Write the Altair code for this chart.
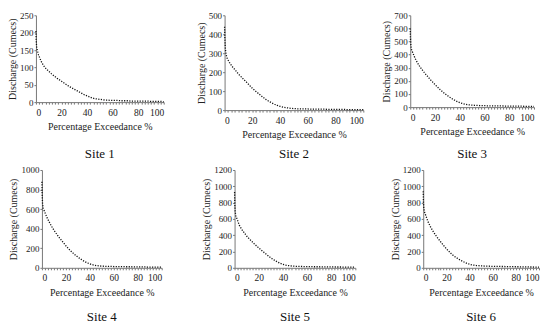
import altair as alt
import pandas as pd

exceedance = [0, 0.2, 0.5, 1,
              2, 4, 6, 8, 10, 12, 14, 16, 18, 20, 22, 24, 26, 28, 30,
              32, 34, 36, 38, 40, 42, 44, 46, 48, 50, 52, 54, 56, 58, 60,
              62, 64, 66, 68, 70, 72, 74, 76, 78, 80, 82, 84, 86, 88, 90,
              92, 94, 96, 98, 100]

site1 = [205, 180, 160, 150,
         136, 118, 105, 96, 89, 82, 76, 70, 65, 60, 55, 50, 45, 41, 37,
         33, 29, 25, 21, 18, 15, 12, 10, 9, 8, 7, 6, 6, 5, 5,
         5, 5, 4, 4, 4, 4, 3, 3, 3, 3, 3, 3, 3, 3, 2,
         2, 2, 2, 2, 1]
site2 = [440, 380, 330, 295,
         270, 245, 225, 208, 190, 175, 160, 146, 130, 115, 102, 90, 78, 66, 55,
         46, 38, 31, 25, 20, 16, 13, 11, 9, 8, 7, 7, 6, 6, 6,
         5, 5, 5, 5, 5, 5, 4, 4, 4, 4, 4, 4, 4, 3, 3,
         3, 3, 3, 3, 2]
site3 = [600, 520, 470, 440,
         415, 370, 335, 305, 280, 256, 234, 212, 192, 172, 153, 135, 118, 102, 88,
         75, 63, 52, 42, 34, 28, 23, 19, 17, 15, 14, 13, 12, 12, 11,
         10, 10, 10, 9, 9, 9, 9, 8, 8, 8, 8, 7, 7, 7, 7,
         6, 6, 6, 6, 5]
site4 = [880, 750, 660, 610,
         580, 520, 470, 425, 385, 350, 315, 285, 255, 225, 198, 172, 150, 128, 110,
         92, 76, 62, 50, 40, 32, 26, 22, 19, 17, 16, 15, 14, 14, 13,
         13, 12, 12, 12, 11, 11, 11, 10, 10, 10, 9, 9, 9, 8, 8,
         8, 7, 7, 7, 6]
site5 = [930, 780, 690, 640,
         600, 520, 470, 430, 390, 358, 328, 298, 270, 244, 218, 194, 170, 145, 122,
         102, 84, 68, 54, 42, 34, 28, 24, 21, 19, 18, 17, 16, 15, 15,
         14, 14, 13, 13, 13, 12, 12, 12, 11, 11, 11, 10, 10, 10, 9,
         9, 9, 8, 8, 7]
site6 = [940, 800, 730, 690,
         650, 570, 510, 460, 415, 375, 338, 302, 267, 234, 204, 176, 150, 130, 113,
         95, 80, 66, 54, 44, 37, 32, 28, 26, 24, 22, 21, 20, 19, 18,
         18, 17, 17, 16, 16, 15, 15, 14, 14, 13, 13, 12, 12, 11, 11,
         10, 10, 9, 9, 8]

site_names = ["Site 1", "Site 2", "Site 3", "Site 4", "Site 5", "Site 6"]
y_max = [250, 500, 700, 1000, 1200, 1200]
y_step = [50, 100, 100, 200, 200, 200]
x_tick_values = [i * 2.5 for i in range(41)]

FONT = "Liberation Serif"
TXT = "#222"
AX = "#777"


def panel(name, vals, ymax, ystep, w, h, title_offset, ytitle_pad):
    df = pd.DataFrame({"x": exceedance, "y": vals})
    return alt.Chart(
        df,
        title=alt.Title(name, orient="bottom", fontSize=13, fontWeight="normal",
                        font=FONT, color="#111", offset=title_offset),
    ).mark_line(strokeDash=[1.2, 1.4], strokeWidth=1.3, color="#111").encode(
        x=alt.X("x:Q", scale=alt.Scale(domain=[0, 100], nice=False),
                axis=alt.Axis(values=x_tick_values,
                              labelExpr="datum.value % 20 == 0 ? datum.label : ''",
                              title="Percentage Exceedance %", grid=False,
                              labelFont=FONT, titleFont=FONT,
                              labelFontSize=9.5, titleFontSize=10,
                              titleFontWeight="normal",
                              labelColor=TXT, titleColor=TXT,
                              domainColor=AX, tickColor=AX,
                              tickSize=2, labelPadding=3, titlePadding=5)),
        y=alt.Y("y:Q", scale=alt.Scale(domain=[0, ymax], nice=False),
                axis=alt.Axis(values=list(range(0, ymax + 1, ystep)), format="d",
                              title="Discharge (Cumecs)", grid=False,
                              labelFont=FONT, titleFont=FONT,
                              labelFontSize=9, titleFontSize=10,
                              titleFontWeight="normal",
                              labelColor=TXT, titleColor=TXT,
                              domainColor=AX, tickColor=AX,
                              tickSize=2, labelPadding=1, titlePadding=ytitle_pad)),
    ).properties(width=w, height=h)


vals = [site1, site2, site3, site4, site5, site6]
sizes = [(128, 87), (139, 95), (124, 92), (120, 98), (121, 98), (116, 98)]
offsets = [16, 8, 11, 14, 14, 14]
ypads = [2, 2, 2, 2, 2, 2]
p = [panel(site_names[i], vals[i], y_max[i], y_step[i], *sizes[i], offsets[i], ypads[i])
     for i in range(6)]

# invisible, empty holder that lets the lower row start a little to the right
holder = alt.Chart(pd.DataFrame({"v": [0]})).mark_text(text="", opacity=0).encode(
    x=alt.value(0)
).properties(width=1, height=98)

top = alt.hconcat(p[0], alt.hconcat(p[1], p[2], spacing=15), spacing=29)
bottom = alt.hconcat(
    alt.hconcat(holder, p[3], spacing=-28),
    alt.hconcat(p[4], p[5], spacing=32),
    spacing=37,
)

chart = alt.concat(top, bottom, columns=1, align="none", spacing=5).properties(
    padding={"left": -1, "top": 3, "right": 0, "bottom": 0}
).configure(font=FONT).configure_view(stroke=None).configure_axis(
    labelFont=FONT, titleFont=FONT
)

chart.save("out.html", embed_options={"renderer": "svg", "actions": False})
